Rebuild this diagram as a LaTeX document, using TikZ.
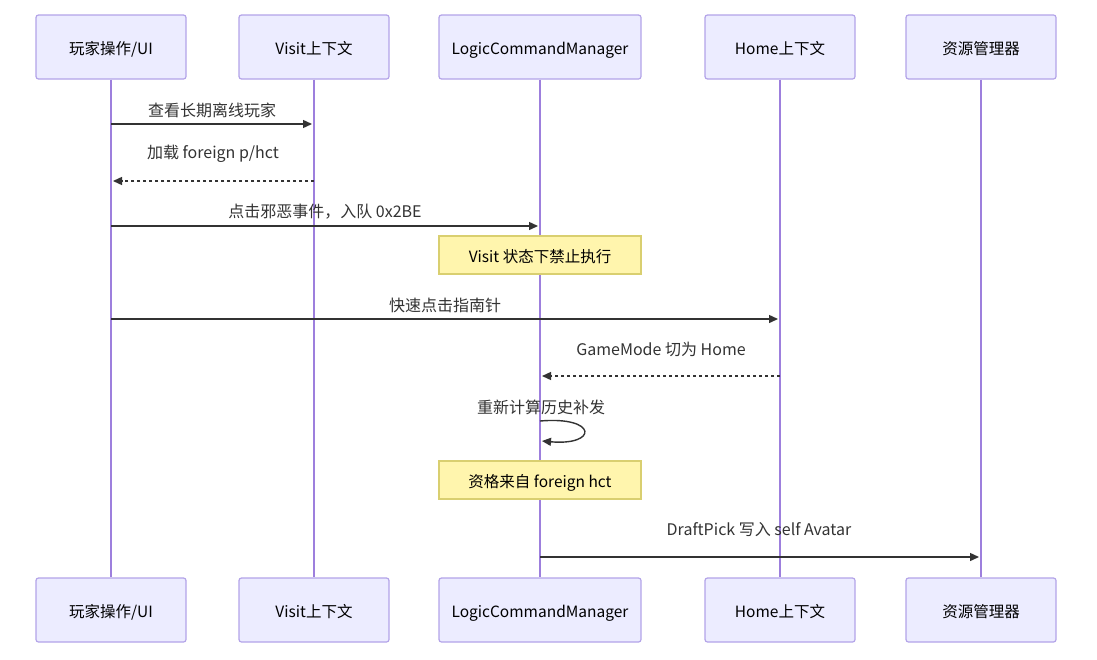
\documentclass[tikz,border=0pt]{standalone}
\usepackage{fontspec}
\setmainfont{Noto Sans CJK SC}
\usetikzlibrary{arrows.meta,calc}
\definecolor{actfill}{HTML}{ECECFF}
\definecolor{actline}{HTML}{B3A3E8}
\definecolor{lifeline}{HTML}{9D7FDD}
\definecolor{notefill}{HTML}{FFF5AD}
\definecolor{noteline}{HTML}{D9CF70}
\definecolor{txt}{HTML}{333333}
\tikzset{
  actor/.style={draw=actline, fill=actfill, line width=1.2pt, rounded corners=2.5pt,
    minimum height=64pt, inner sep=0pt, text=black, text height=16pt, text depth=1pt,
    font=\fontsize{15.5}{18}\selectfont},
  lifel/.style={draw=lifeline, line width=1.8pt},
  msg/.style={draw=txt, line width=1.4pt, -{Triangle[length=9pt,width=8pt]}},
  reply/.style={msg, dash pattern=on 3pt off 3pt},
  mlabel/.style={text=txt, font=\fontsize{16}{19}\selectfont, inner sep=0pt},
  notebox/.style={draw=noteline, fill=notefill, line width=1.2pt, minimum width=202pt,
    minimum height=38pt, inner sep=0pt, text=black, text height=16pt, text depth=1pt,
    font=\fontsize{15.5}{18}\selectfont}
}
\begin{document}
\begin{tikzpicture}[x=1pt,y=-1pt]
\useasboundingbox (0,0) rectangle (1097,659);
\fill[white] (0,0) rectangle (1097,659);
% top actors
\node[actor, minimum width=150pt] (a) at (111,47) {玩家操作/UI};
\node[actor, minimum width=150pt] (b) at (314,47) {Visit上下文};
\node[actor, minimum width=202pt] (c) at (540,47) {LogicCommandManager};
\node[actor, minimum width=150pt] (d) at (780,47) {Home上下文};
\node[actor, minimum width=150pt] (e) at (981,47) {资源管理器};
% bottom actors
\node[actor, minimum width=150pt] (ab) at (111,610) {玩家操作/UI};
\node[actor, minimum width=150pt] (bb) at (314,610) {Visit上下文};
\node[actor, minimum width=202pt] (cb) at (540,610) {LogicCommandManager};
\node[actor, minimum width=150pt] (db) at (780,610) {Home上下文};
\node[actor, minimum width=150pt] (eb) at (981,610) {资源管理器};
% lifelines
\draw[lifel] (a.south) -- (ab.north);
\draw[lifel] (b.south) -- (bb.north);
\draw[lifel] (c.south) -- (cb.north);
\draw[lifel] (d.south) -- (db.north);
\draw[lifel] (e.south) -- (eb.north);
% message anchor points
\coordinate (m1a) at (111,124); \coordinate (m1b) at (312,124);
\coordinate (m2a) at (314,181); \coordinate (m2b) at (113,181);
\coordinate (m3a) at (111,226); \coordinate (m3b) at (538,226);
\coordinate (m5a) at (111,319); \coordinate (m5b) at (778,319);
\coordinate (m6a) at (780,376); \coordinate (m6b) at (542,376);
\coordinate (m7a) at (540,421); \coordinate (m7b) at (542,441);
\coordinate (m9a) at (540,557); \coordinate (m9b) at (979,557);
% messages
\draw[msg] (m1a) -- (m1b);
\node[mlabel] (l1) at (212,110) {查看长期离线玩家};
\draw[reply] (m2a) -- (m2b);
\node[mlabel] (l2) at (213,154) {加载 foreign p/hct};
\draw[msg] (m3a) -- (m3b);
\node[mlabel] (l3) at (325,212) {点击邪恶事件，入队 0x2BE};
\node[notebox] (n1) at (540,255) {Visit 状态下禁止执行};
\draw[msg] (m5a) -- (m5b);
\node[mlabel] (l5) at (445,305) {快速点击指南针};
\draw[reply] (m6a) -- (m6b);
\node[mlabel] (l6) at (661,349) {GameMode 切为 Home};
\node[mlabel] (l7) at (541,407) {重新计算历史补发};
\draw[msg] (m7a) .. controls (598,416) and (598,446) .. (m7b);
\node[notebox] (n2) at (540,480) {资格来自 foreign hct};
\draw[msg] (m9a) -- (m9b);
\node[mlabel] (l9) at (759,530) {DraftPick 写入 self Avatar};
\end{tikzpicture}
\end{document}
